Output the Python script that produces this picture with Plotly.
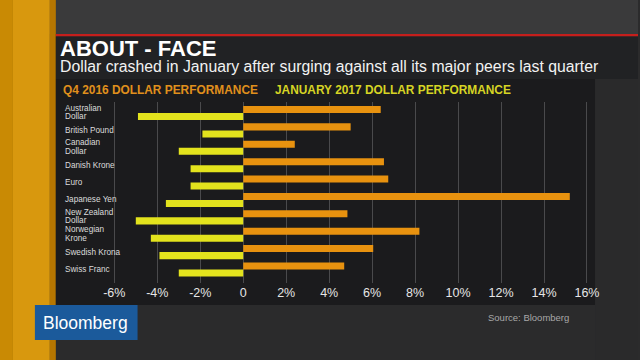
import plotly.graph_objects as go

categories = ["Australian<br>Dollar", "British Pound", "Canadian<br>Dollar", "Danish Krone", "Euro",
              "Japanese Yen", "New Zealand<br>Dollar", "Norwegian<br>Krone", "Swedish Krona", "Swiss Franc"]
q4_2016 = [6.4, 5.0, 2.4, 6.55, 6.75, 15.2, 4.85, 8.2, 6.05, 4.7]
jan_2017 = [-4.9, -1.9, -3.0, -2.45, -2.45, -3.6, -5.0, -4.3, -3.9, -3.0]
tick_vals = [-6, -4, -2, 0, 2, 4, 6, 8, 10, 12, 14, 16]
tick_text = ["-6%", "-4%", "-2%", "0", "2%", "4%", "6%", "8%", "10%", "12%", "14%", "16%"]

W, H = 640, 360
FONT = "Liberation Sans"
ORANGE = "#e8920f"
YELLOW = "#e3e31d"

def px(x):
    return x / W

def py(y):
    return 1 - y / H

fig = go.Figure()
fig.add_trace(go.Bar(y=categories, x=q4_2016, orientation="h", name="Q4 2016",
                     marker=dict(color=ORANGE, line=dict(width=0)), hoverinfo="x+y"))
fig.add_trace(go.Bar(y=categories, x=jan_2017, orientation="h", name="January 2017",
                     marker=dict(color=YELLOW, line=dict(width=0)), hoverinfo="x+y"))

shapes = []
def rect(x0, y0, x1, y1, color):
    shapes.append(dict(type="rect", xref="paper", yref="paper", x0=px(x0), x1=px(x1),
                       y0=py(y1), y1=py(y0), fillcolor=color, line=dict(width=0), layer="below"))

rect(0, 0, 640, 34, "#3a3a3b")
rect(0, 0, 13, 360, "#c98a04")
rect(13, 0, 50, 360, "#d8980e")
rect(50, 0, 56, 360, "#b67600")
rect(56, 34, 640, 36.5, "#c51f1c")
rect(56, 36.5, 640, 79, "#212224")
rect(56, 79, 597, 305, "#1b1b1d")
rect(597, 79, 640, 360, "#2a2a2b")
rect(35, 305, 138, 340, "#1b5a9b")

annotations = []
def text(x, y, s, size, color, bold=False, xanchor="left", yanchor="middle"):
    annotations.append(dict(xref="paper", yref="paper", x=px(x), y=py(y), text=("<b>%s</b>" % s) if bold else s,
                            showarrow=False, xanchor=xanchor, yanchor=yanchor,
                            font=dict(family=FONT, size=size, color=color)))

text(58, 48.5, "ABOUT - FACE", 22, "#ffffff", bold=True)
text(58, 66.5, "Dollar crashed in January after surging against all its major peers last quarter", 15.8, "#f2f2f2")
text(61, 90, "Q4 2016 DOLLAR PERFORMANCE", 11.9, "#e0901c", bold=True)
text(274, 90, "JANUARY 2017 DOLLAR PERFORMANCE", 11.9, "#d6d424", bold=True)
text(86, 323, "Bloomberg", 17.5, "#ffffff", xanchor="center")
text(488, 317, "Source: Bloomberg", 9.5, "#a8a8a8")

for c in categories:
    lines = c.split("<br>")
    shifts = [0] if len(lines) == 1 else [5, -3.5]
    for ln, sh in zip(lines, shifts):
        annotations.append(dict(xref="paper", yref="y", x=px(63), y=c, text=ln, showarrow=False,
                                xanchor="left", yanchor="middle", align="left", yshift=sh,
                                font=dict(family=FONT, size=8.2, color="#dcdcdc")))

fig.update_layout(
    width=W, height=H, margin=dict(l=0, r=0, t=0, b=0),
    paper_bgcolor="#2b2b2c", plot_bgcolor="rgba(0,0,0,0)",
    barmode="group", bargap=0.19, bargroupgap=0,
    showlegend=False, shapes=shapes, annotations=annotations,
    xaxis=dict(domain=[px(103.9), px(599.6)], range=[-6.5, 16.5], tickvals=tick_vals, ticktext=tick_text,
               showgrid=True, gridcolor="#4a4a4c", gridwidth=1, zeroline=False, showline=False,
               ticks="", tickfont=dict(family=FONT, size=12.5, color="#e6e6e6"), fixedrange=True),
    yaxis=dict(domain=[py(283), py(102)], type="category", range=[9.776, -0.633],
               showticklabels=False, showgrid=False, zeroline=False, showline=False, fixedrange=True),
)

fig.write_html("out.html", config={"displayModeBar": False},
               post_script="document.body.style.margin='0';document.body.style.overflow='hidden';")
